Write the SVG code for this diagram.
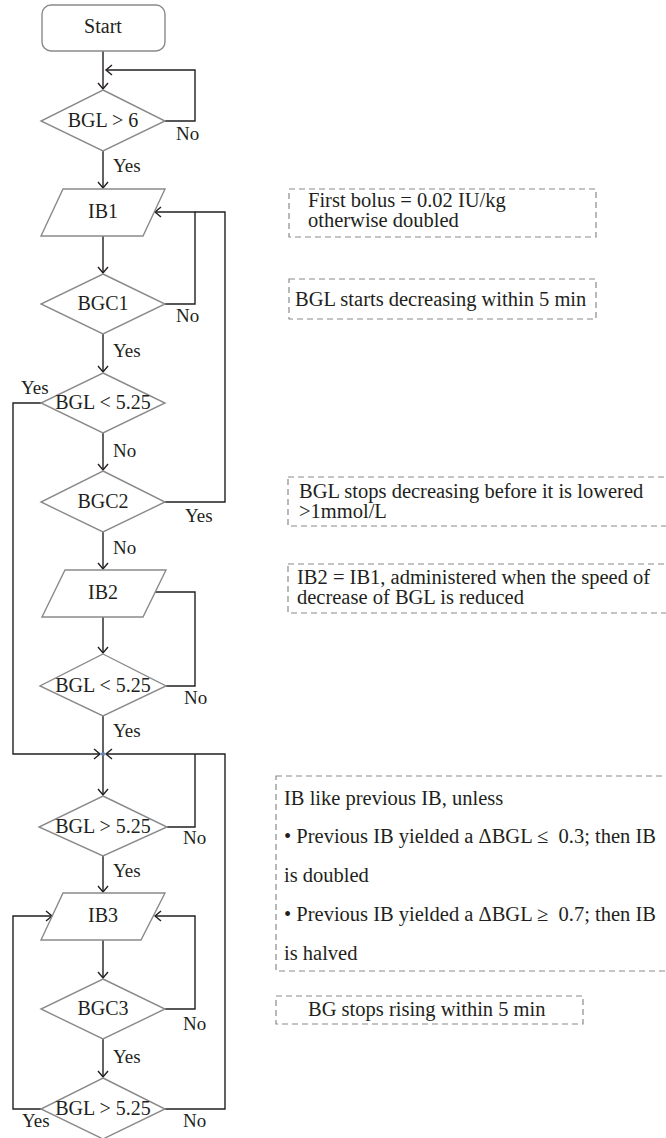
<svg xmlns="http://www.w3.org/2000/svg" width="666" height="1138" viewBox="0 0 666 1138" font-family="Liberation Serif, serif">
<style>
text{font-family:'Liberation Serif','Times New Roman',Times,serif;fill:#231f20}
.n{font-size:20px;text-anchor:middle}
.l{font-size:19px}
.t{font-size:20.5px}
.shape{fill:#fff;stroke:#8a8a8a;stroke-width:1.4}
.note{fill:none;stroke:#8a8a8a;stroke-width:1.2;stroke-dasharray:6,4}
.c{fill:none;stroke:#231f20;stroke-width:1.4}
</style>
<defs>
<marker id="ah" viewBox="0 0 10 12" refX="8" refY="6" markerWidth="10" markerHeight="12" orient="auto" markerUnits="userSpaceOnUse">
<path d="M2,1 L8,6 L2,11" fill="none" stroke="#231f20" stroke-width="1.4"/>
</marker>
</defs>
<rect width="666" height="1138" fill="#fff"/>

<g id="connectors">
<path class="c" d="M103,51 V89" marker-end="url(#ah)"/>
<path class="c" d="M165,121 H195 V70 H106" marker-end="url(#ah)"/>
<path class="c" d="M103,151 V188" marker-end="url(#ah)"/>
<path class="c" d="M103,236 V273" marker-end="url(#ah)"/>
<path class="c" d="M165,502 H225 V212 H195"/>
<path class="c" d="M165,304 H195 V212 H155" marker-end="url(#ah)"/>
<path class="c" d="M103,334 V372" marker-end="url(#ah)"/>
<path class="c" d="M103,433 V470" marker-end="url(#ah)"/>
<path class="c" d="M42,403 H13 V754 H100" marker-end="url(#ah)"/>
<path class="c" d="M103,532 V569" marker-end="url(#ah)"/>
<path class="c" d="M103,617 V653" marker-end="url(#ah)"/>
<path class="c" d="M166,686 H195 V592 H155"/>
<path class="c" d="M103,716 V754"/>
<path class="c" d="M103,754 V795" marker-end="url(#ah)"/>
<path class="c" d="M167,827 H195 V754"/>
<path class="c" d="M165,1109 H225 V754 H106" marker-end="url(#ah)"/>
<path class="c" d="M103,856 V892" marker-end="url(#ah)"/>
<path class="c" d="M103,940 V978" marker-end="url(#ah)"/>
<path class="c" d="M165,1009 H195 V916 H155" marker-end="url(#ah)"/>
<path class="c" d="M103,1039 V1077" marker-end="url(#ah)"/>
<path class="c" d="M42,1109 H13 V916 H52" marker-end="url(#ah)"/>
<circle cx="103" cy="754" r="2" fill="#5b7fb5"/>
</g>

<g id="start">
<rect class="shape" x="42" y="5" width="123" height="46" rx="9"/>
<text class="n" x="103" y="33">Start</text>
</g>
<g id="d1">
<polygon class="shape" points="103,90 165,121 103,151 41,121"/>
<text class="n" x="103" y="127">BGL &gt; 6</text>
<text class="l" x="176" y="140">No</text>
<text class="l" x="113" y="172">Yes</text>
</g>
<g id="ib1">
<polygon class="shape" points="63,189 165,189 143,236 41,236"/>
<text class="n" x="103" y="218">IB1</text>
</g>
<g id="bgc1">
<polygon class="shape" points="103,274 165,304 103,334 41,304"/>
<text class="n" x="103" y="310">BGC1</text>
<text class="l" x="176" y="322">No</text>
<text class="l" x="113" y="357">Yes</text>
</g>
<g id="d3">
<polygon class="shape" points="103,373 165,403 103,433 41,403"/>
<text class="n" x="103" y="409">BGL &lt; 5.25</text>
<text class="l" x="21" y="394">Yes</text>
<text class="l" x="113" y="457">No</text>
</g>
<g id="bgc2">
<polygon class="shape" points="103,471 165,502 103,532 41,502"/>
<text class="n" x="103" y="508">BGC2</text>
<text class="l" x="185" y="522">Yes</text>
<text class="l" x="113" y="554">No</text>
</g>
<g id="ib2">
<polygon class="shape" points="65,570 166,570 143,617 42,617"/>
<text class="n" x="103" y="599">IB2</text>
</g>
<g id="d5">
<polygon class="shape" points="103,654 166,686 103,716 40,686"/>
<text class="n" x="103" y="692">BGL &lt; 5.25</text>
<text class="l" x="184" y="704">No</text>
<text class="l" x="113" y="737">Yes</text>
</g>
<g id="d6">
<polygon class="shape" points="103,796 167,827 103,856 39,827"/>
<text class="n" x="103" y="833">BGL &gt; 5.25</text>
<text class="l" x="183" y="844">No</text>
<text class="l" x="113" y="877">Yes</text>
</g>
<g id="ib3">
<polygon class="shape" points="63,893 165,893 141,940 41,940"/>
<text class="n" x="103" y="922">IB3</text>
</g>
<g id="bgc3">
<polygon class="shape" points="103,979 165,1009 103,1039 41,1009"/>
<text class="n" x="103" y="1015">BGC3</text>
<text class="l" x="183" y="1030">No</text>
<text class="l" x="113" y="1063">Yes</text>
</g>
<g id="d9">
<polygon class="shape" points="103,1078 165,1109 103,1139 41,1109"/>
<text class="n" x="103" y="1115">BGL &gt; 5.25</text>
<text class="l" x="22" y="1127">Yes</text>
<text class="l" x="183" y="1127">No</text>
</g>

<g id="note1">
<rect class="note" x="289" y="189" width="307" height="48"/>
<text class="t" x="308" y="207">First bolus = 0.02 IU/kg</text>
<text class="t" x="308" y="227">otherwise doubled</text>
</g>
<g id="note2">
<rect class="note" x="289" y="279" width="307" height="40"/>
<text class="t" x="295" y="306">BGL starts decreasing within 5 min</text>
</g>
<g id="note3">
<rect class="note" x="288" y="477" width="380" height="49"/>
<text class="t" x="299" y="498">BGL stops decreasing before it is lowered</text>
<text class="t" x="299" y="518">&gt;1mmol/L</text>
</g>
<g id="note4">
<rect class="note" x="288" y="564" width="380" height="49"/>
<text class="t" x="297" y="584">IB2 = IB1, administered when the speed of</text>
<text class="t" x="297" y="604">decrease of BGL is reduced</text>
</g>
<g id="note5">
<rect class="note" x="276" y="776" width="392" height="195"/>
<text class="t" x="284" y="805">IB like previous IB, unless</text>
<text class="t" x="284" y="843">• Previous IB yielded a ΔBGL ≤&#160; 0.3; then IB</text>
<text class="t" x="284" y="882">is doubled</text>
<text class="t" x="284" y="921">• Previous IB yielded a ΔBGL ≥&#160; 0.7; then IB</text>
<text class="t" x="284" y="960">is halved</text>
</g>
<g id="note6">
<rect class="note" x="276" y="996" width="307" height="28"/>
<text class="t" x="308" y="1016">BG stops rising within 5 min</text>
</g>
</svg>
